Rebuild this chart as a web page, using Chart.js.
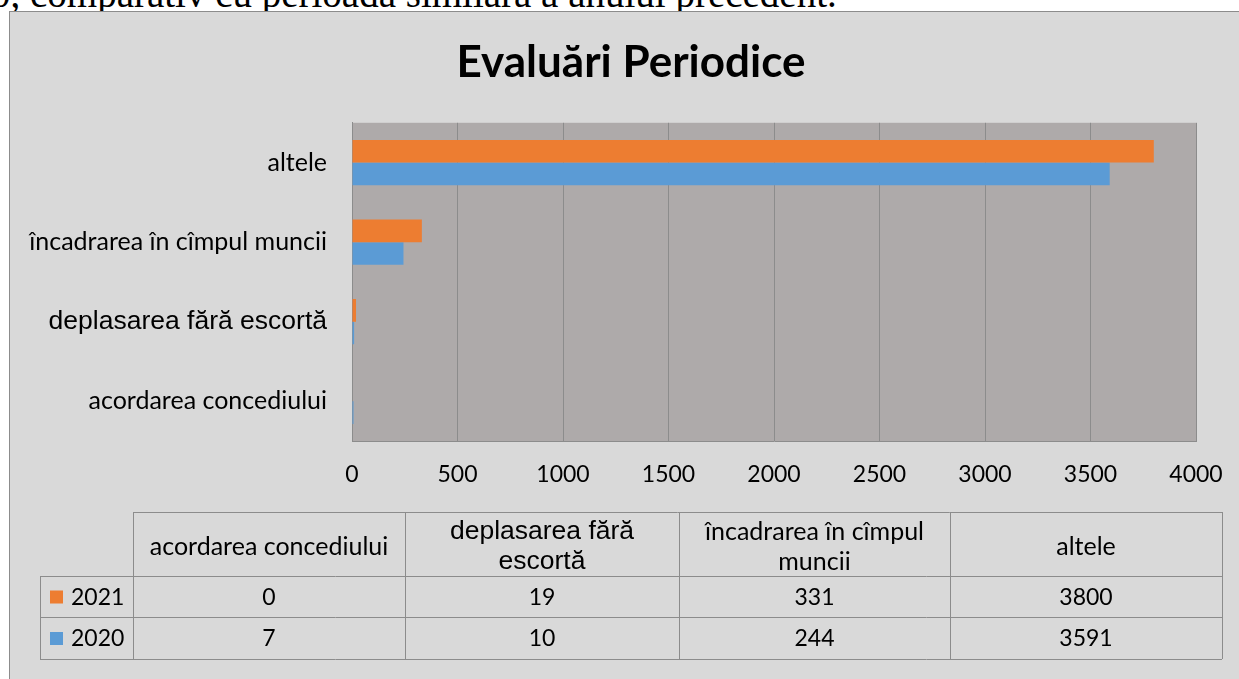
<!DOCTYPE html>
<html>
<head>
<meta charset="utf-8">
<script src="https://cdn.jsdelivr.net/npm/chart.js@4"></script>
<style>
  html, body { margin: 0; padding: 0; background: #fff; overflow: hidden; }
  #note {
    position: absolute; left: -9px; top: -26px;
    font: 39px/1 "Liberation Serif", serif; color: #000; white-space: nowrap;
  }
  #box {
    position: absolute; left: 9px; top: 11px;
    border: 1px solid #8c8c8c; background: #d9d9d9;
  }
  #myChart { display: block; }
</style>
</head>
<body>
<div id="note">0, comparativ cu perioada similară a anului precedent.</div>
<div id="box"><canvas id="myChart" width="1240" height="678"></canvas></div>
<script>
// data
const categories = ['acordarea concediului', 'deplasarea fără escortă', 'încadrarea în cîmpul muncii', 'altele'];
const seriesNames = ['2021', '2020'];
const values2021 = [0, 19, 331, 3800];
const values2020 = [7, 10, 244, 3591];
const xTicks = [0, 500, 1000, 1500, 2000, 2500, 3000, 3500, 4000];

const orange = '#ed7d31';
const blue = '#5b9bd5';
const lineGrey = '#8c8c8c';
const calibriLike = '"Lato", "Open Sans", sans-serif';
const arialLike = '"Liberation Sans", Arial, sans-serif';

// the second category label is set in Arial in the original
function labelFont(i) {
    return i === 1 ? '26.5px ' + arialLike : '25px ' + calibriLike;
}

//plot area fill
const plotBg = {
    id: 'plotBg',
    beforeDraw(chart) {
        const a = chart.chartArea;
        const ctx = chart.ctx;
        ctx.save();
        ctx.fillStyle = '#aeaaaa';
        ctx.fillRect(a.left, a.top, a.right - a.left, a.bottom - a.top);
        ctx.restore();
    }
};

//data table under the chart
const dataTable = {
    id: 'dataTable',
    afterDraw(chart) {
        const ctx = chart.ctx;
        const colX = [30, 123, 395, 669, 940, 1212];
        const rowY = [500, 564, 605, 647];
        const rows = [values2021, values2020];
        const colors = [orange, blue];
        ctx.save();
        ctx.strokeStyle = lineGrey;
        ctx.lineWidth = 1;
        ctx.beginPath();
        ctx.moveTo(colX[1], rowY[0] + 0.5);
        ctx.lineTo(colX[5], rowY[0] + 0.5);
        for (let r = 1; r < rowY.length; r++) {
            ctx.moveTo(colX[0], rowY[r] + 0.5);
            ctx.lineTo(colX[5], rowY[r] + 0.5);
        }
        ctx.moveTo(colX[0] + 0.5, rowY[1]);
        ctx.lineTo(colX[0] + 0.5, rowY[3]);
        for (let c = 1; c < colX.length; c++) {
            ctx.moveTo(colX[c] + 0.5, rowY[0]);
            ctx.lineTo(colX[c] + 0.5, rowY[3]);
        }
        ctx.stroke();

        ctx.fillStyle = '#000';
        ctx.textAlign = 'center';
        ctx.textBaseline = 'middle';
        // header cells, wrapped to the column width
        categories.forEach((cat, i) => {
            ctx.font = labelFont(i);
            const w = colX[i + 2] - colX[i + 1] - 20;
            const lines = [];
            let cur = '';
            cat.split(' ').forEach(word => {
                const t = cur ? cur + ' ' + word : word;
                if (cur && ctx.measureText(t).width > w) {
                    lines.push(cur);
                    cur = word;
                } else {
                    cur = t;
                }
            });
            lines.push(cur);
            const cx = (colX[i + 1] + colX[i + 2]) / 2;
            const cy = (rowY[0] + rowY[1]) / 2 + 3;
            const lh = 30;
            lines.forEach((ln, k) => {
                ctx.fillText(ln, cx, cy + (k - (lines.length - 1) / 2) * lh);
            });
        });
        // value rows with legend keys
        ctx.font = '23px ' + calibriLike;
        rows.forEach((vals, r) => {
            const cy = (rowY[r + 1] + rowY[r + 2]) / 2;
            ctx.fillStyle = colors[r];
            ctx.fillRect(colX[0] + 10, cy - 6, 13, 13);
            ctx.fillStyle = '#000';
            ctx.textAlign = 'left';
            ctx.fillText(seriesNames[r], colX[0] + 31, cy + 1);
            ctx.textAlign = 'center';
            vals.forEach((v, i) => {
                ctx.fillText(String(v), (colX[i + 1] + colX[i + 2]) / 2, cy + 1);
            });
        });
        ctx.restore();
    }
};

let myChart = document.getElementById('myChart').getContext('2d');
let evalChart = new Chart(myChart, {
    type: 'bar',
    data: {
        labels: categories,
        datasets: [{
            label: seriesNames[0],
            data: values2021,
            backgroundColor: orange
        }, {
            label: seriesNames[1],
            data: values2020,
            backgroundColor: blue
        }]
    },
    options: {
        indexAxis: 'y',
        responsive: false,
        animation: false,
        categoryPercentage: 0.57,
        barPercentage: 1.0,
        layout: {
            padding: { left: 10, right: 8, top: 0, bottom: 189 }
        },
        plugins: {
            legend: { display: false },
            tooltip: { enabled: false },
            title: {
                display: true,
                text: 'Evaluări Periodice',
                color: '#000',
                font: { family: calibriLike, size: 44, weight: 'bold', lineHeight: 1.2 },
                padding: { top: 24, bottom: 34 }
            }
        },
        scales: {
            x: {
                min: 0,
                max: 4000,
                afterBuildTicks: (s) => { s.ticks = xTicks.map(v => ({ value: v })); },
                afterFit: (s) => { s.height = 60; },
                grid: { color: lineGrey, drawTicks: false },
                border: { display: true, color: lineGrey },
                ticks: {
                    color: '#000',
                    padding: 20,
                    font: { family: calibriLike, size: 23 },
                    callback: (v) => String(v)
                }
            },
            y: {
                reverse: true,
                afterFit: (s) => { s.width = 332; },
                grid: { display: false, drawTicks: false },
                border: { display: true, color: lineGrey },
                ticks: {
                    color: '#000',
                    padding: 25,
                    font: (c) => {
                        const f = labelFont(c.index).split('px ');
                        return { size: parseFloat(f[0]), family: f[1] };
                    }
                }
            },
            // empty right margin, keeps the title centred on the whole box
            yRight: {
                axis: 'y',
                type: 'category',
                position: 'right',
                afterFit: (s) => { s.width = 46; },
                grid: { display: false, drawTicks: false },
                border: { display: false },
                ticks: { display: false }
            }
        }
    },
    plugins: [plotBg, dataTable]
});
</script>
</body>
</html>
